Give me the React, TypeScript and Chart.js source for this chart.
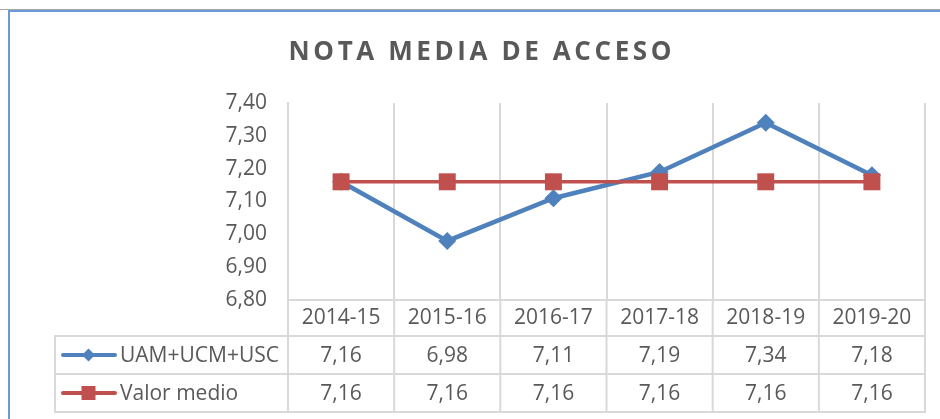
import React, { useEffect, useRef } from "react";
import { Chart, registerables } from "chart.js";

Chart.register(...registerables);

const categories = ["2014-15", "2015-16", "2016-17", "2017-18", "2018-19", "2019-20"];
const seriesUAM = [7.16, 6.98, 7.11, 7.19, 7.34, 7.18];
const seriesMedio = [7.16, 7.16, 7.16, 7.16, 7.16, 7.16];
const seriesNames = ["UAM+UCM+USC", "Valor medio"];
const yTicks = [6.8, 6.9, 7.0, 7.1, 7.2, 7.3, 7.4];
const titleText = "NOTA MEDIA DE ACCESO";

const BLUE = "#4f81bd";
const RED = "#c0504d";
const GRID = "#d9d9d9";
const TEXT = "#595959";
const FONT = "'Open Sans', 'Noto Sans', sans-serif";

const fmt = (v: number) => v.toFixed(2).replace(".", ",");

const tablePlugin = {
  id: "dataTable",
  afterDraw(chart: any) {
    const ctx = chart.ctx as CanvasRenderingContext2D;
    const area = chart.chartArea;
    const xs = chart.scales.x;
    const n = categories.length;
    const colW = (area.right - area.left) / n;
    const headerBottom = area.bottom + 36;
    const row1Bottom = headerBottom + 38;
    const row2Bottom = row1Bottom + 38;
    const tableLeft = 55;

    ctx.save();
    // frame
    ctx.fillStyle = "#a6a6a6";
    ctx.fillRect(0, 9, chart.width, 1);
    ctx.fillStyle = "#6a9bd8";
    ctx.fillRect(8, 10, chart.width - 8, 2);
    ctx.fillRect(8, 10, 2, chart.height - 10);

    // table lines
    ctx.strokeStyle = GRID;
    ctx.lineWidth = 2;
    ctx.beginPath();
    for (let i = 0; i <= n; i++) {
      const x = area.left + i * colW;
      ctx.moveTo(x, area.bottom);
      ctx.lineTo(x, row2Bottom);
    }
    ctx.moveTo(tableLeft, headerBottom);
    ctx.lineTo(tableLeft, row2Bottom);
    [headerBottom, row1Bottom, row2Bottom].forEach((y) => {
      ctx.moveTo(tableLeft - 1, y);
      ctx.lineTo(area.right + 1, y);
    });
    ctx.stroke();

    // rows
    const rows = [
      { name: seriesNames[0], data: seriesUAM, color: BLUE, marker: "diamond", y: (headerBottom + row1Bottom) / 2 },
      { name: seriesNames[1], data: seriesMedio, color: RED, marker: "square", y: (row1Bottom + row2Bottom) / 2 },
    ];
    rows.forEach((r) => {
      ctx.strokeStyle = r.color;
      ctx.lineWidth = 4;
      ctx.lineCap = "round";
      ctx.beginPath();
      ctx.moveTo(63, r.y);
      ctx.lineTo(115, r.y);
      ctx.stroke();
      ctx.fillStyle = r.color;
      const cx = 88.5;
      if (r.marker === "diamond") {
        const s = 6.5;
        ctx.beginPath();
        ctx.moveTo(cx, r.y - s);
        ctx.lineTo(cx + s, r.y);
        ctx.lineTo(cx, r.y + s);
        ctx.lineTo(cx - s, r.y);
        ctx.closePath();
        ctx.fill();
      } else {
        ctx.fillRect(cx - 7, r.y - 7, 14, 14);
      }
      ctx.fillStyle = TEXT;
      ctx.font = `21px ${FONT}`;
      ctx.textBaseline = "middle";
      ctx.textAlign = "left";
      ctx.fillText(r.name, 120, r.y + 1);
      ctx.textAlign = "center";
      r.data.forEach((v, i) => {
        ctx.fillText(fmt(v), xs.getPixelForValue(i), r.y + 1);
      });
    });

    // title
    ctx.fillStyle = TEXT;
    ctx.font = `bold 26px ${FONT}`;
    const ls = 3.6;
    (ctx as any).letterSpacing = `${ls}px`;
    ctx.textAlign = "left";
    ctx.textBaseline = "alphabetic";
    const w = ctx.measureText(titleText).width - ls;
    ctx.fillText(titleText, 480 - w / 2, 60);
    (ctx as any).letterSpacing = "0px";
    ctx.restore();
  },
};

export default function App() {
  const ref = useRef<HTMLCanvasElement | null>(null);
  useEffect(() => {
    document.body.style.margin = "0";
    if (!ref.current) return;
    const chart = new Chart(ref.current, {
      type: "line",
      data: {
        labels: categories,
        datasets: [
          {
            label: seriesNames[0],
            data: seriesUAM,
            borderColor: BLUE,
            backgroundColor: BLUE,
            borderWidth: 4.5,
            pointStyle: "rectRot",
            pointRadius: 9,
            pointBorderWidth: 0,
            pointBackgroundColor: BLUE,
            order: 1,
            tension: 0,
          },
          {
            label: seriesNames[1],
            data: seriesMedio,
            borderColor: RED,
            backgroundColor: RED,
            borderWidth: 3.5,
            pointStyle: "rect",
            pointRadius: 12,
            pointBorderWidth: 0,
            pointBackgroundColor: RED,
            order: 0,
            tension: 0,
          },
        ],
      },
      options: {
        animation: false,
        responsive: false,
        devicePixelRatio: 1,
        layout: { padding: { left: 0, top: 103, right: 15, bottom: 0 } },
        plugins: {
          legend: { display: false },
          tooltip: { enabled: false },
          title: { display: false },
        },
        scales: {
          x: {
            type: "category",
            offset: true,
            grid: { display: true, offset: true, color: GRID, lineWidth: 2, drawTicks: false },
            border: { display: true, color: GRID, width: 2 },
            ticks: { color: TEXT, font: { family: FONT, size: 21 }, padding: 5, maxRotation: 0 },
            afterFit: (s: any) => {
              s.height = 119;
            },
          },
          y: {
            min: yTicks[0],
            max: yTicks[yTicks.length - 1],
            afterBuildTicks: (s: any) => {
              s.ticks = yTicks.map((v) => ({ value: v }));
            },
            grid: { display: false, drawTicks: false },
            border: { display: true, color: GRID, width: 2 },
            ticks: {
              color: TEXT,
              font: { family: FONT, size: 21 },
              padding: 21,
              callback: (v: any) => fmt(Number(v)),
            },
            afterFit: (s: any) => {
              s.width = 288;
            },
          },
        },
      },
      plugins: [tablePlugin],
    });
    return () => chart.destroy();
  }, []);
  return (
    <div style={{ position: "absolute", left: 0, top: 0, width: 940, height: 419, background: "#fff" }}>
      <canvas ref={ref} width={940} height={419} />
    </div>
  );
}
